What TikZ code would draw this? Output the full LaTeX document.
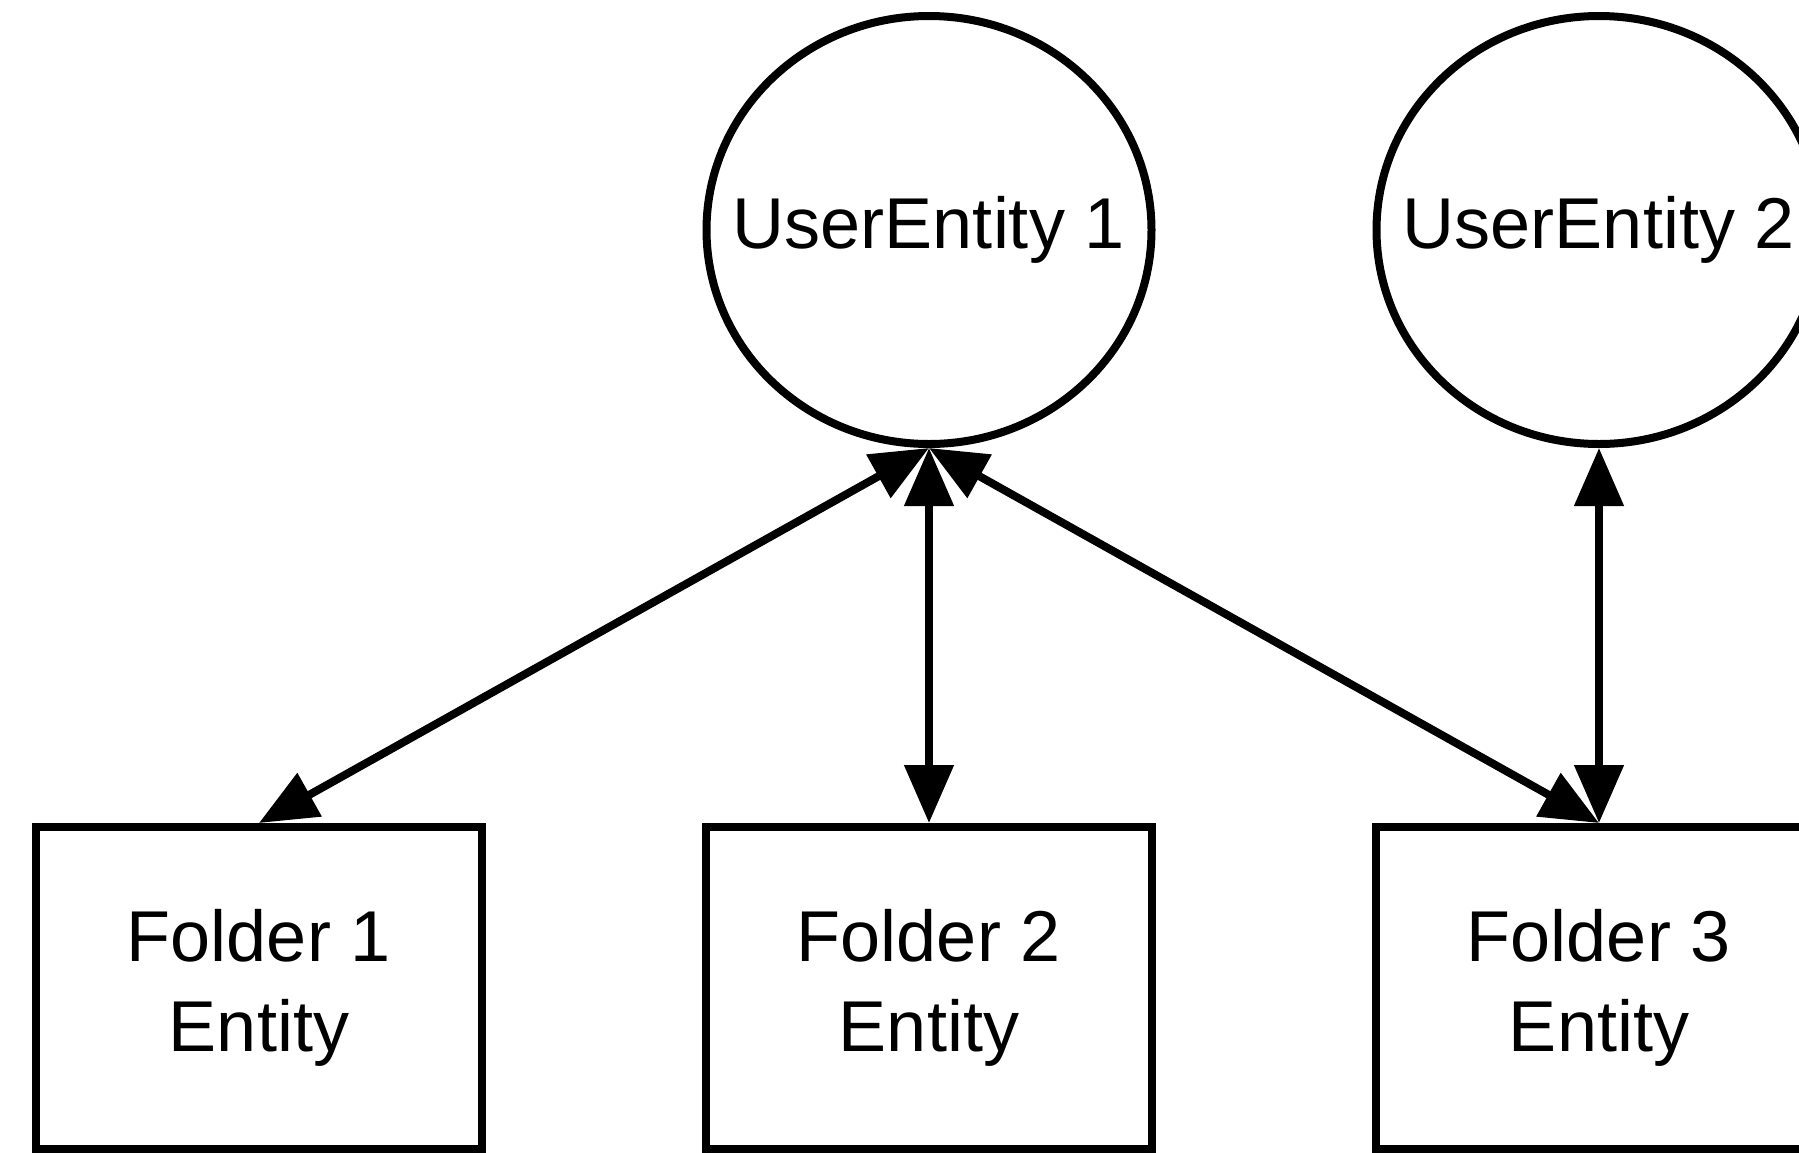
\documentclass[tikz,border=0pt]{standalone}
\usepackage{fontspec}
\setmainfont{Liberation Sans}
\usetikzlibrary{shapes.geometric,arrows.meta}
\begin{document}
\begin{tikzpicture}[x=1pt,y=-1pt,
  user/.style={draw=black,line width=8pt,ellipse,minimum width=445pt,minimum height=428pt,inner sep=0pt,font=\fontsize{72}{90}\selectfont},
  folder/.style={draw=black,line width=8pt,rectangle,minimum width=446pt,minimum height=322pt,inner sep=0pt,align=center,font=\fontsize{72}{90}\selectfont},
  conn/.style={line width=8pt,{Triangle[length=58pt,width=48pt]}-{Triangle[length=58pt,width=48pt]}}]
\useasboundingbox[fill=white] (0,0) rectangle (1799,1152);
\node[user] (u1) at (929,230) {\makebox[0pt]{UserEntity 1}};
\node[user] (u2) at (1599,230) {\makebox[0pt]{UserEntity 2}};
\node[folder] (f1) at (259,988) {Folder 1\\Entity};
\node[folder] (f2) at (929,988) {Folder 2\\Entity};
\node[folder] (f3) at (1599,988) {Folder 3\\Entity};
\draw[conn] (u1.south) -- (f1.north);
\draw[conn] (u1.south) -- (f2.north);
\draw[conn] (u1.south) -- (f3.north);
\draw[conn] (u2.south) -- (f3.north);
\end{tikzpicture}
\end{document}
